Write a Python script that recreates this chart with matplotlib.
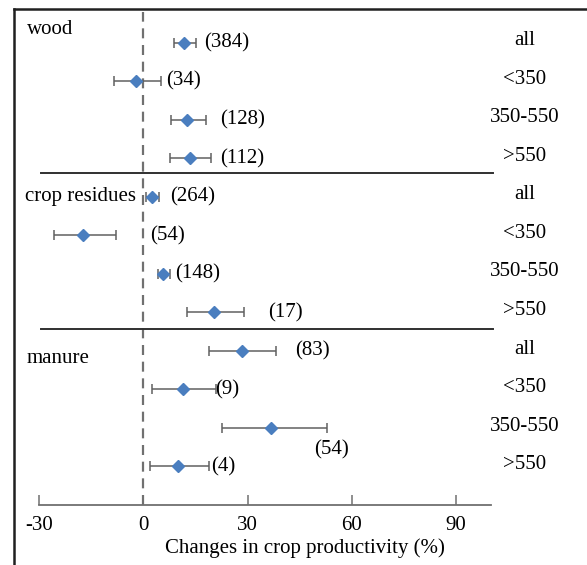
import matplotlib
matplotlib.use("Agg")
import matplotlib.pyplot as plt
from matplotlib.lines import Line2D

plt.rcParams['font.family'] = ['Liberation Serif', 'DejaVu Serif']

groups = ['wood', 'crop residues', 'manure']
classes = ['all', '<350', '350-550', '>550']

# mean effect and 95% CI per group, per rainfall class
mean = [11.8, -2.0, 12.7, 13.5,
        2.4, -17.3, 5.8, 20.4,
        28.4, 11.3, 36.7, 10.1]
low = [8.9, -8.3, 8.0, 7.7,
       0.8, -25.6, 4.1, 12.6,
       18.8, 2.4, 22.5, 2.0]
high = [15.2, 5.2, 18.0, 19.5,
        4.4, -7.8, 7.8, 29.0,
        38.3, 21.0, 52.9, 19.0]
n_obs = [384, 34, 128, 112,
         264, 54, 148, 17,
         83, 9, 54, 4]

# where the sample size labels sit
label_x = [24.0, 11.5, 28.5, 28.5,
           14.1, 6.9, 15.5, 40.8,
           48.6, 24.2, 54.1, 23.0]
label_dy = [0, 0, 0, 0, 0, 0, 0, 0, 0, 0, 0.57, 0]

fs = 15

fig = plt.figure(figsize=(5.87, 5.65), dpi=100)
ax = fig.add_axes([39 / 587, 1 - 505 / 565, (491 - 39) / 587, (505 - 12) / 565])

rows = list(range(len(mean)))
xerr = [[m - l for m, l in zip(mean, low)], [h - m for m, h in zip(mean, high)]]
ax.errorbar(mean, rows, xerr=xerr, fmt='D', color='#4a7ebf', ms=6.5,
            ecolor='#606060', elinewidth=1.1, capsize=3.5, capthick=1.1, zorder=3)

ax.axvline(0, color='#707070', lw=1.6, ls=(0, (4.5, 3)), zorder=1)

for i in rows:
    ax.text(label_x[i], i + label_dy[i], '(%d)' % n_obs[i], ha='center', va='center', fontsize=fs)
    ax.text(109.7, i - 0.05, classes[i % 4], ha='center', va='center', fontsize=fs, clip_on=False)

# separators between the three amendment groups
for y in [3.38, 7.44]:
    ax.plot([-29.4, 100.6], [y, y], color='#303030', lw=1.4, clip_on=False)

ax.text(-33.5, -0.35, groups[0], ha='left', va='center', fontsize=fs)
ax.text(-34.0, 4.0, groups[1], ha='left', va='center', fontsize=fs)
ax.text(-33.5, 8.2, groups[2], ha='left', va='center', fontsize=fs)

ax.set_xlim(-30, 100)
ax.set_ylim(12, -0.8)
ax.set_xticks([-30, 0, 30, 60, 90])
ax.set_xticklabels(['-30', '0', '30', '60', '90'], fontsize=fs)
ax.set_yticks([])
ax.tick_params(axis='x', direction='in', length=7, width=1.1, color='#707070', pad=8)
for s in ['left', 'right', 'top']:
    ax.spines[s].set_visible(False)
ax.spines['bottom'].set_color('#707070')
ax.spines['bottom'].set_linewidth(1.3)

fig.text(305 / 587, 1 - 548 / 565, 'Changes in crop productivity (%)', ha='center', va='center', fontsize=fs)

# frame on the left and top of the figure
fig.add_artist(Line2D([14 / 587, 14 / 587], [0, 1 - 9 / 565], color='#202020', lw=1.8))
fig.add_artist(Line2D([14 / 587, 1], [1 - 9 / 565, 1 - 9 / 565], color='#202020', lw=1.8))

fig.savefig('out.png', dpi=100)
